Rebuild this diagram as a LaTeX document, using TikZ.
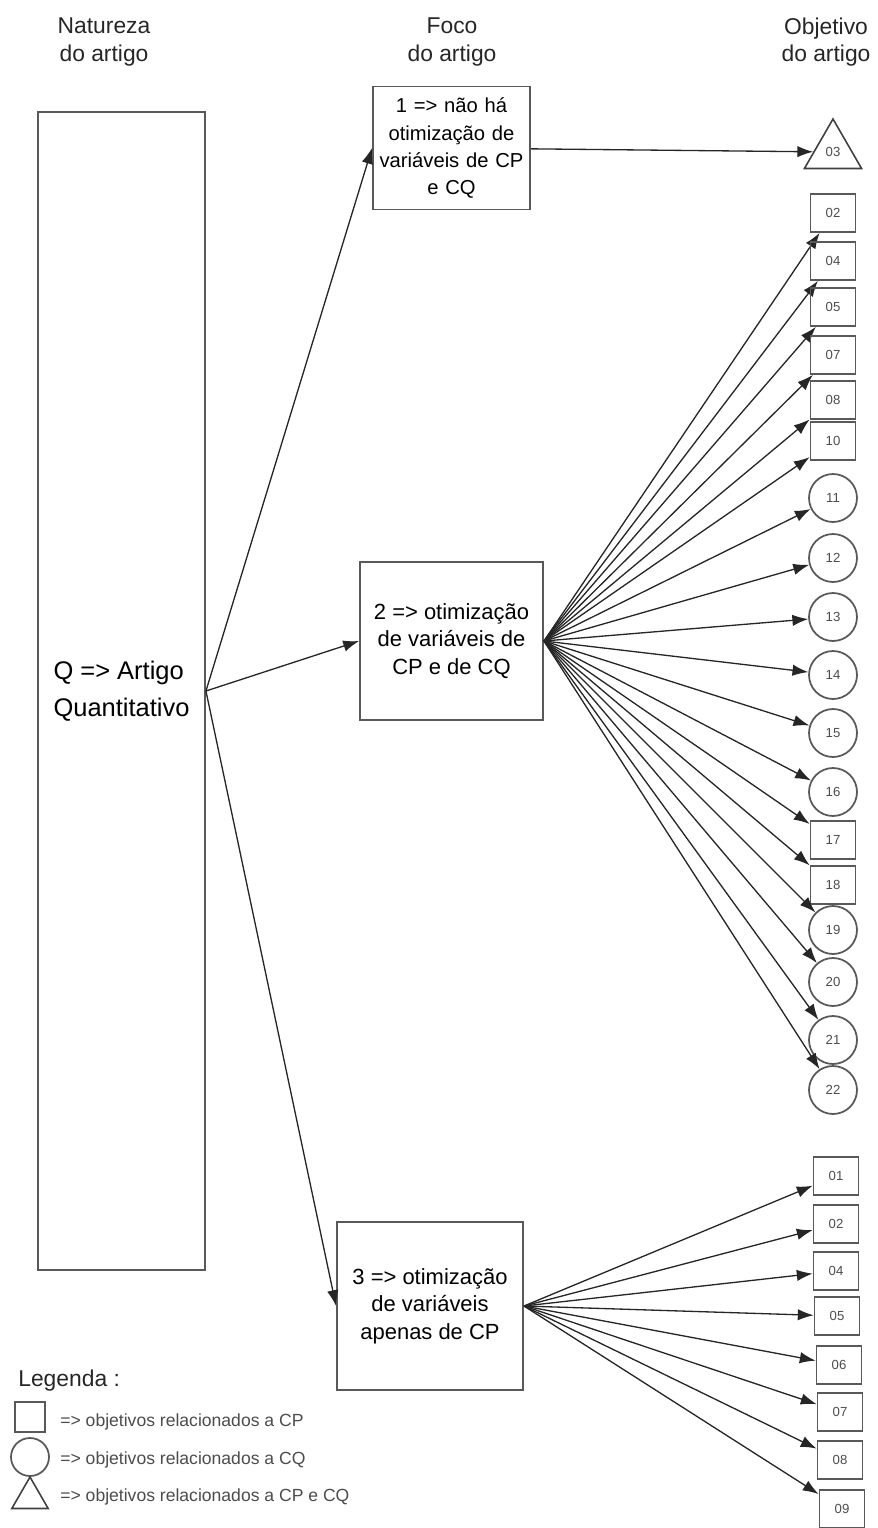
\documentclass[tikz,border=0pt]{standalone}
\usepackage{fontspec}
\setmainfont{Liberation Sans}
\usepackage{tikz}
\usetikzlibrary{arrows.meta, shapes.geometric}
\tikzset{
  caixa/.style={draw=black!65, line width=1.1pt, align=center, inner sep=2pt, font=\fontsize{12.5}{15.6}\selectfont},
  objq/.style={draw=black!65, line width=1pt, rectangle, minimum width=0.9cm, minimum height=0.76cm, inner sep=0pt, font=\fontsize{7.5}{8}\selectfont, text=black!70},
  objc/.style={draw=black!65, line width=1pt, circle, minimum size=0.96cm, inner sep=0pt, font=\fontsize{7.5}{8}\selectfont, text=black!70},
  objt/.style={draw=black!75, line width=0.9pt, regular polygon, regular polygon sides=3, inner sep=0pt, font=\fontsize{7.5}{8}\selectfont, text=black!70},
  seta/.style={draw=black!85, line width=0.75pt, -{Latex[length=9pt,width=6.5pt]}},
  titulo/.style={align=center, font=\fontsize{13}{15.5}\selectfont, text=black!85},
  legtxt/.style={anchor=west, inner sep=0pt, font=\fontsize{10}{11}\selectfont, text=black!70}
}

\begin{document}
\begin{tikzpicture}[x=0.02cm, y=-0.02cm]
\useasboundingbox (0,0) rectangle (878,1528);

\node[titulo] (hnat) at (104,42) {Natureza\\do artigo};
\node[titulo] (hfoco) at (452,42) {Foco\\do artigo};
\node[titulo] (hobj) at (826,42) {Objetivo\\do artigo};

\node[caixa, minimum width=3.34cm, minimum height=23.16cm, align=left, font=\fontsize{14.5}{21}\selectfont] (nat) at (121.5,691) {Q => Artigo\\Quantitativo};

\node[caixa, minimum width=3.14cm, minimum height=2.46cm, text width=3.0cm, font=\fontsize{11.5}{15.4}\selectfont] (foco1) at (451.5,148) {1 => não há\\otimização de\\variáveis de CP\\e CQ};
\node[caixa, minimum width=3.66cm, minimum height=3.16cm] (foco2) at (451.5,641) {2 => otimização\\de variáveis de\\CP e de CQ};
\node[caixa, minimum width=3.72cm, minimum height=3.36cm] (foco3) at (430,1306) {3 => otimização\\de variáveis\\apenas de CP};

\draw[seta] (nat.east) -- (foco1.west);
\draw[seta] (nat.east) -- (foco2.west);
\draw[seta] (nat.east) -- (foco3.west);

\node[objt, minimum size=1.32cm] (tri) at (833,152) {03};
\draw[seta] (foco1) -- (tri);

\foreach \t/\y/\lab in {q/213/02, q/261/04, q/307/05, q/355/07, q/400/08, q/441/10,
    c/498/11, c/558/12, c/617/13, c/675/14, c/733/15, c/792/16, q/840/17, q/885/18,
    c/930/19, c/982/20, c/1040/21, c/1090/22}
{
  \node[obj\t] (a\lab) at (833,\y) {\lab};
  \draw[seta] (foco2.east) -- (a\lab);
}

\foreach \x/\y/\lab in {836/1176/01, 836/1224/02, 836/1271/04, 837/1316/05,
    839/1365/06, 840/1412/07, 840/1460/08, 842/1509/09}
{
  \node[objq] (b\lab) at (\x,\y) {\lab};
  \draw[seta] (foco3.east) -- (b\lab);
}

% legenda
\node[anchor=west, inner sep=0pt, font=\fontsize{13}{15}\selectfont, text=black!85] (leg) at (18,1381) {Legenda :};
\node[objq, minimum width=0.6cm, minimum height=0.6cm] (lq) at (30,1417) {};
\node[objc, minimum size=0.76cm] (lc) at (30,1457) {};
\node[objt, minimum size=0.84cm] (lt) at (30,1498) {};
\node[legtxt] (tq) at (60,1422) {=> objetivos relacionados a CP};
\node[legtxt] (tc) at (60,1460) {=> objetivos relacionados a CQ};
\node[legtxt] (tt) at (60,1497) {=> objetivos relacionados a CP e CQ};
\end{tikzpicture}
\end{document}
